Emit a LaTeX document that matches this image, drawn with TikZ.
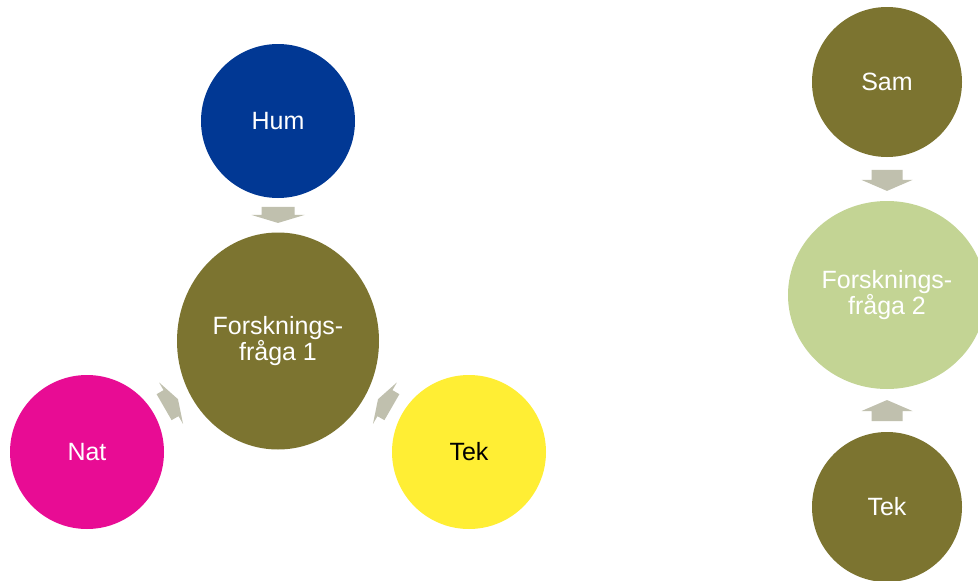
\documentclass[tikz,border=0pt]{standalone}
\usepackage{fontspec}
\setmainfont{Liberation Sans}
\usetikzlibrary{calc,shapes.geometric}
\definecolor{humblue}{RGB}{1,56,148}
\definecolor{olivec}{RGB}{124,116,48}
\definecolor{magentac}{RGB}{232,12,148}
\definecolor{yellowc}{RGB}{255,238,52}
\definecolor{lightgreen}{RGB}{195,212,148}
\definecolor{arrowc}{RGB}{192,192,174}
% #1 from, #2 to, #3 fraction, #4 angle, #5 length, #6 head length, #7 shaft half width, #8 head half width
\newcommand{\barrow}[8]{%
  \begin{scope}[x=1pt,y=1pt,shift={($(#1.center)!#3!(#2.center)$)},rotate=#4]
    \fill[arrowc] ({-(#5)/2},{-(#7)}) -- ({(#5)/2-(#6)},{-(#7)}) -- ({(#5)/2-(#6)},{-(#8)})
      -- ({(#5)/2},0) -- ({(#5)/2-(#6)},{#8}) -- ({(#5)/2-(#6)},{#7}) -- ({-(#5)/2},{#7}) -- cycle;
  \end{scope}}
\begin{document}
\begin{tikzpicture}[x=1pt,y=-1pt,
  disc/.style={circle, inner sep=0pt, minimum size=#1, text=white, align=center,
    font=\fontsize{25}{24}\selectfont},
  oval/.style={ellipse, inner sep=0pt, text=white, align=center,
    font=\fontsize{25}{24}\selectfont}]
\useasboundingbox (0,0) rectangle (978,581);
\fill[white] (0,0) rectangle (978,581);
% left diagram
\node[disc=154, fill=humblue] (hum) at (278,121) {Hum};
\node[oval, fill=olivec, minimum width=202, minimum height=217] (f1) at (278,341) {Forsknings-\\fråga 1};
\node[disc=154, fill=magentac] (nat) at (87,452) {Nat};
\node[disc=154, fill=yellowc, text=black] (tek) at (469,452) {Tek};
\barrow{hum}{f1}{0.427}{-90}{16}{8}{16.5}{26.5}
\barrow{nat}{f1}{0.44}{30}{16}{8}{15}{24}
\barrow{tek}{f1}{0.44}{150}{16}{8}{15}{24}
% right diagram
\node[disc=150, fill=olivec] (sam) at (887,82) {Sam};
\node[oval, fill=lightgreen, minimum width=198, minimum height=188] (f2) at (887,295) {Forsknings-\\fråga 2};
\node[disc=150, fill=olivec] (tek2) at (887,507) {Tek};
\barrow{sam}{f2}{0.462}{-90}{21}{11}{15.5}{25.5}
\barrow{tek2}{f2}{0.455}{90}{21}{11}{15.5}{25.5}
\end{tikzpicture}
\end{document}
